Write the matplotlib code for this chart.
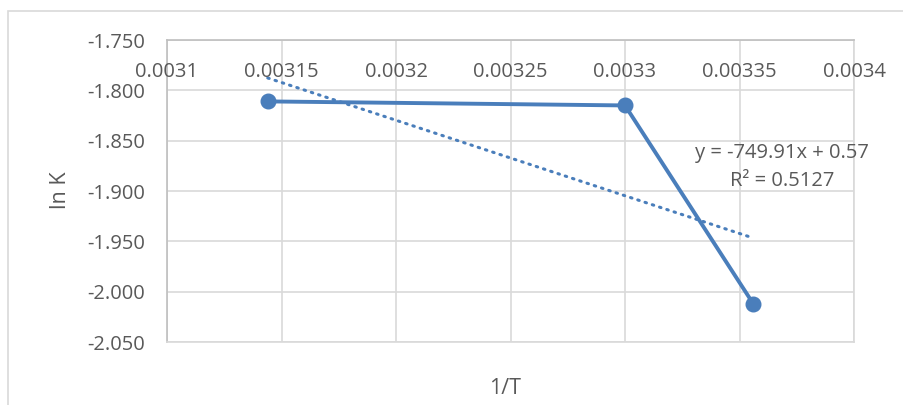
import matplotlib
matplotlib.use("Agg")
import matplotlib.pyplot as plt
import numpy as np

inv_T = [0.003144, 0.003300, 0.003356]
lnK = [-1.811, -1.815, -2.012]
x_ticks = [0.0031, 0.00315, 0.0032, 0.00325, 0.0033, 0.00335, 0.0034]
x_tick_labels = ["0.0031", "0.00315", "0.0032", "0.00325", "0.0033", "0.00335", "0.0034"]
y_ticks = [-1.75, -1.80, -1.85, -1.90, -1.95, -2.00, -2.05]
y_tick_labels = ["-1.750", "-1.800", "-1.850", "-1.900", "-1.950", "-2.000", "-2.050"]
slope, intercept = -749.91, 0.57
eq_text = "y = -749.91x + 0.57"
r2_text = "R² = 0.5127"

plt.rcParams['font.family'] = ['Open Sans', 'DejaVu Sans']
txt = '#595959'
blue = '#4a7ebb'
fs = 14.5

fig = plt.figure(figsize=(9.04, 4.05), dpi=100)
ax = fig.add_axes([167/904, 1-342/405, (854-167)/904, (342-40)/405])

# chart border (partially cropped on right and bottom)
fig.patches.append(plt.Rectangle((8/904, -0.1), 1.2, (1 - 11/405) + 0.1,
                                 transform=fig.transFigure, fill=False,
                                 edgecolor='#d9d9d9', lw=1.2))

ax.set_xlim(0.0031, 0.0034)
ax.set_ylim(-2.05, -1.75)
ax.set_xticks(x_ticks)
ax.set_yticks(y_ticks)
ax.set_yticklabels(y_tick_labels)
ax.set_xticklabels([])
ax.grid(True, color='#d9d9d9', lw=1.2)
ax.set_axisbelow(True)
for s in ax.spines.values():
    s.set_color('#d9d9d9')
    s.set_linewidth(1.2)
ax.spines['left'].set_color('#bfbfbf')
ax.spines['top'].set_color('#bfbfbf')
ax.tick_params(length=0, labelsize=fs, colors=txt, pad=16)

# x tick labels just below the top axis (axis crosses at top)
for xv, lab in zip(x_ticks, x_tick_labels):
    ax.text(xv, -1.7818, lab, ha='center', va='center', fontsize=fs, color=txt)

ax.plot(inv_T, lnK, color=blue, lw=2.8, marker='o', ms=10.5, zorder=3)
xt = np.array([inv_T[0], inv_T[-1]])
ax.plot(xt, slope*xt + intercept, color=blue, lw=2.2, ls=(0, (0.5, 2.0)),
        dash_capstyle='round', zorder=2)

ax.text(0.0033686, -1.8623, eq_text, ha='center', va='center', fontsize=fs, color=txt)
ax.text(0.0033686, -1.8905, r2_text, ha='center', va='center', fontsize=fs, color=txt)

fig.text(505/904, 1-389/405, "1/T", ha='center', va='center', fontsize=fs+1, color=txt)
fig.text(60/904, 1-190/405, "ln K", ha='center', va='center', fontsize=fs+1,
         color=txt, rotation=90)

fig.savefig("out.png", dpi=100)
